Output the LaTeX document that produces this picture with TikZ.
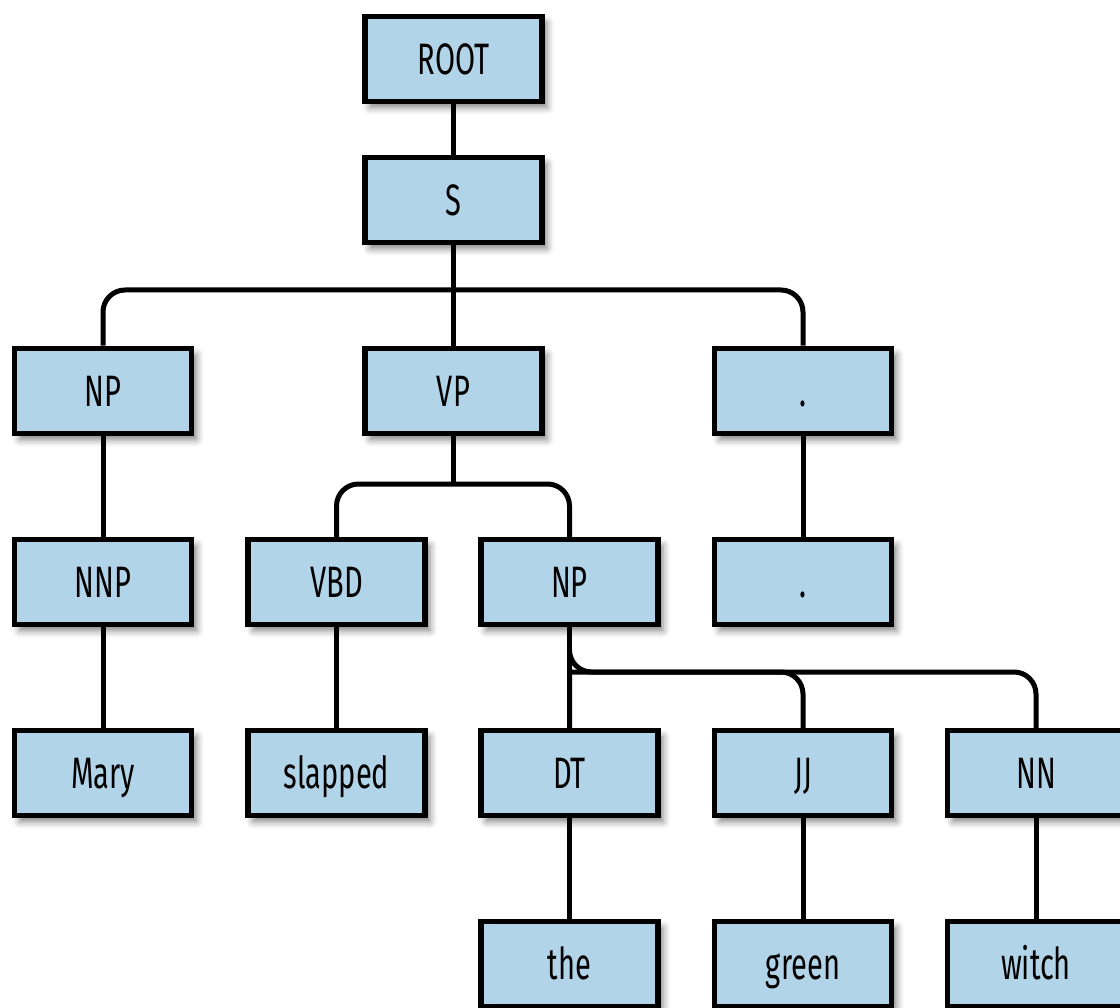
\documentclass[tikz,border=0pt]{standalone}
\usepackage{fontspec}
\setmainfont[FakeStretch=0.66]{Fira Sans}
\usetikzlibrary{shadows.blur,backgrounds}
\definecolor{boxfill}{RGB}{178,212,233}
\tikzset{
  tag/.style={draw=black, line width=5.5pt, fill=boxfill,
    minimum width=177pt, minimum height=85pt, inner sep=0pt,
    text height=31pt, text depth=0pt,
    font=\fontsize{44}{50}\selectfont,
    blur shadow={shadow xshift=5pt, shadow yshift=-6pt,
      shadow blur radius=7pt, shadow opacity=50}},
  link/.style={line width=5pt, rounded corners=22pt}
}
\begin{document}
\begin{tikzpicture}[x=1pt, y=-1pt]
\useasboundingbox (0,0) rectangle (1120,1008);
% column and row centres
\def\cA{103}\def\cB{336.5}\def\cC{453.5}\def\cD{569.5}\def\cE{803}\def\cF{1036}
\def\rA{59}\def\rB{200}\def\rC{391}\def\rD{582}\def\rE{773}\def\rF{964}

\node[tag] (root) at (\cC,\rA) {ROOT};
\node[tag] (s)    at (\cC,\rB) {S};
\node[tag] (np1)  at (\cA,\rC) {NP};
\node[tag] (vp)   at (\cC,\rC) {VP};
\node[tag] (dot1) at (\cE,\rC) {.};
\node[tag] (nnp)  at (\cA,\rD) {NNP};
\node[tag] (vbd)  at (\cB,\rD) {VBD};
\node[tag] (np2)  at (\cD,\rD) {NP};
\node[tag] (dot2) at (\cE,\rD) {.};
\node[tag] (mary) at (\cA,\rE) {Mary};
\node[tag] (slap) at (\cB,\rE) {slapped};
\node[tag] (dt)   at (\cD,\rE) {DT};
\node[tag] (jj)   at (\cE,\rE) {JJ};
\node[tag] (nn)   at (\cF,\rE) {NN};
\node[tag] (the)  at (\cD,\rF) {the};
\node[tag] (green) at (\cE,\rF) {green};
\node[tag] (witch) at (\cF,\rF) {witch};

% branching points of the bars
\coordinate (sbar) at (\cC,290);
\coordinate (vpbar) at (\cC,484);
\coordinate (npbar) at (\cD,672);

% connectors, drawn behind the boxes
\begin{pgfonlayer}{background}
\draw[link] (root.south) -- (s.north);
\draw[link] (s.south) -- (vp.north);
\draw[link] (np1.north) |- (sbar) -| (dot1.north);
\draw[link] (vp.south) -- (vpbar);
\draw[link] (vbd.north) |- (vpbar) -| (np2.north);
\draw[link] (np2.south) -- (dt.north);
\draw[link] (dt.north) |- (npbar) -| (nn.north);
\draw[link] (jj.north) |- (npbar);
\draw[link] (np1.south) -- (nnp.north);
\draw[link] (nnp.south) -- (mary.north);
\draw[link] (vbd.south) -- (slap.north);
\draw[link] (dot1.south) -- (dot2.north);
\draw[link] (dt.south) -- (the.north);
\draw[link] (jj.south) -- (green.north);
\draw[link] (nn.south) -- (witch.north);
\end{pgfonlayer}
\end{tikzpicture}
\end{document}
